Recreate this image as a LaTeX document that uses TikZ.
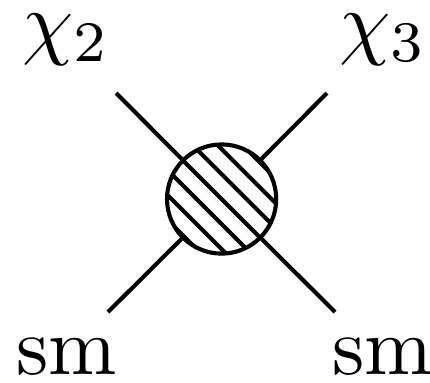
\documentclass[tikz,border=0pt]{standalone}
\begin{document}
\begin{tikzpicture}[x=0.122pt,y=-0.122pt,
  leg/.style={line width=0.5pt},
  hatch/.style={line width=0.5pt},
  blobnode/.style={circle, draw, line width=0.5pt, inner sep=0pt, minimum size=13.32pt},
  lbl/.style={inner sep=0pt, anchor=base west}]
\useasboundingbox (0,0) rectangle (430,382);
\node[blobnode, path picture={
  \foreach \k in {-3,...,3}
    \draw[hatch, shift={(path picture bounding box.center)}] (\k*25-90,-90) -- ++(180,180);
}] (blob) at (221.6,199) {};
\coordinate (tl) at (116,93);
\coordinate (tr) at (327,93);
\coordinate (bl) at (108,312);
\coordinate (br) at (335,312);
\draw[leg] (tl) -- (blob);
\draw[leg] (tr) -- (blob);
\draw[leg] (bl) -- (blob);
\draw[leg] (br) -- (blob);
\node[lbl] (c2) at (21,49) {$\chi_2$};
\node[lbl] (c3) at (338,49) {$\chi_3$};
\node[lbl] (s1) at (14.5,374) {sm};
\node[lbl] (s2) at (330.5,374) {sm};
\end{tikzpicture}
\end{document}
